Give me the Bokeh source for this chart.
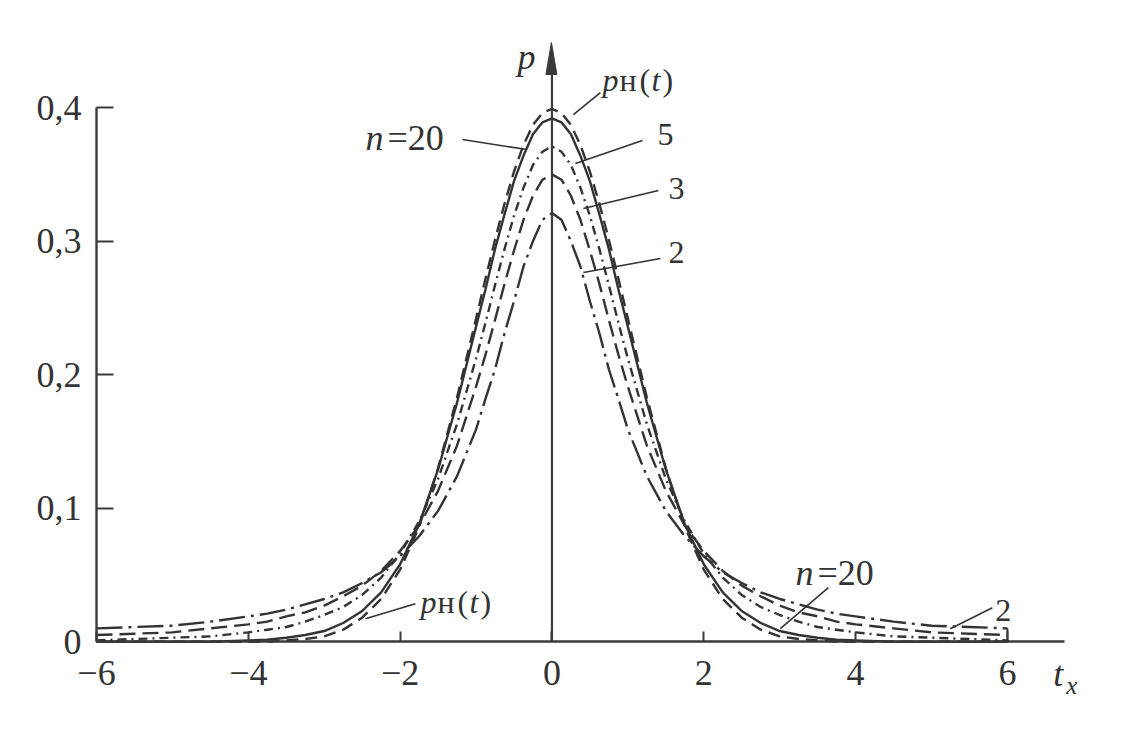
from bokeh.plotting import figure
from bokeh.models import FixedTicker, Label, Range1d
from bokeh.core.properties import value
from bokeh.embed import file_html
from bokeh.resources import INLINE

# ---------------- data ----------------
t = [-6, -5.5, -5, -4.5, -4, -3.75, -3.5, -3.25, -3, -2.75, -2.5, -2.25, -2,
     -1.75, -1.5, -1.25, -1, -0.875, -0.75, -0.625, -0.5, -0.375, -0.25, -0.125,
     0,
     0.125, 0.25, 0.375, 0.5, 0.625, 0.75, 0.875, 1, 1.25, 1.5, 1.75, 2, 2.25,
     2.5, 2.75, 3, 3.25, 3.5, 3.75, 4, 4.5, 5, 5.5, 6]

p_normal = [0.000, 0.000, 0.000, 0.000, 0.000, 0.000, 0.001, 0.002, 0.004, 0.009,
            0.018, 0.032, 0.054, 0.086, 0.130, 0.183, 0.242, 0.272, 0.301, 0.328,
            0.352, 0.372, 0.387, 0.396,
            0.399,
            0.396, 0.387, 0.372, 0.352, 0.328, 0.301, 0.272, 0.242, 0.183, 0.130,
            0.086, 0.054, 0.032, 0.018, 0.009, 0.004, 0.002, 0.001, 0.000, 0.000,
            0.000, 0.000, 0.000, 0.000]

p_n20 = [0.000, 0.000, 0.000, 0.000, 0.001, 0.0015, 0.003, 0.005, 0.008, 0.014,
         0.023, 0.037, 0.058, 0.088, 0.129, 0.179, 0.236, 0.264, 0.294, 0.320,
         0.345, 0.364, 0.380, 0.389,
         0.392,
         0.389, 0.380, 0.364, 0.345, 0.320, 0.294, 0.264, 0.236, 0.179, 0.129,
         0.088, 0.058, 0.037, 0.023, 0.014, 0.008, 0.005, 0.003, 0.0015, 0.001,
         0.000, 0.000, 0.000, 0.000]

p_n5 = [0.001, 0.002, 0.003, 0.004, 0.007, 0.009, 0.011, 0.015, 0.020, 0.026,
        0.035, 0.048, 0.066, 0.090, 0.122, 0.163, 0.212, 0.239, 0.267, 0.294,
        0.319, 0.340, 0.357, 0.367,
        0.371,
        0.367, 0.357, 0.340, 0.319, 0.294, 0.267, 0.239, 0.212, 0.163, 0.122,
        0.090, 0.066, 0.048, 0.035, 0.026, 0.020, 0.015, 0.011, 0.009, 0.007,
        0.004, 0.003, 0.002, 0.001]

p_n3 = [0.005, 0.006, 0.007, 0.010, 0.013, 0.015, 0.019, 0.022, 0.027, 0.034,
        0.042, 0.053, 0.068, 0.087, 0.113, 0.147, 0.191, 0.215, 0.241, 0.268,
        0.293, 0.316, 0.334, 0.346,
        0.350,
        0.346, 0.334, 0.316, 0.293, 0.268, 0.241, 0.215, 0.191, 0.147, 0.113,
        0.087, 0.068, 0.053, 0.042, 0.034, 0.027, 0.022, 0.019, 0.015, 0.013,
        0.010, 0.007, 0.006, 0.005]

p_n2 = [0.010, 0.011, 0.012, 0.015, 0.019, 0.021, 0.024, 0.028, 0.032, 0.037,
        0.044, 0.052, 0.064, 0.079, 0.098, 0.124, 0.159, 0.182, 0.204, 0.231,
        0.255, 0.281, 0.300, 0.316,
        0.321,
        0.316, 0.300, 0.281, 0.255, 0.231, 0.204, 0.182, 0.159, 0.124, 0.098,
        0.079, 0.064, 0.052, 0.044, 0.037, 0.032, 0.028, 0.024, 0.021, 0.019,
        0.015, 0.012, 0.011, 0.010]

x_ticks = [-6, -4, -2, 0, 2, 4, 6]
x_tick_labels = ["\u22126", "\u22124", "\u22122", "0", "2", "4", "6"]
y_ticks = [0, 0.1, 0.2, 0.3, 0.4]
y_tick_labels = ["0", "0,1", "0,2", "0,3", "0,4"]

# ---------------- layout ----------------
FONT = "Liberation Serif"
INK = "#333333"
AXIS_INK = "#3a3a3a"

PX_T = 968 / 12.75                 # pixels per unit of t
PX_P = 614 / 0.46                  # pixels per unit of p
T_AXIS = -6                        # where the p axis stands (left)
T_BOUND_END = 6.75                 # right end of the t axis line
X0_PIX, YZ_PIX = 96, 641           # page pixel of t=-6 / of p=0
FRAME_LEFT_PIX = 24
X_START = T_AXIS - (X0_PIX - FRAME_LEFT_PIX) / PX_T
X_END = 7.2
Y_START, Y_END = -0.065, 0.46
FRAME_W = round((X_END - X_START) * PX_T)
FRAME_H = round((Y_END - Y_START) * PX_P)


def at(xpix, ypix):
    """page pixel -> data coordinates (used only for annotation placement)"""
    return (xpix - X0_PIX) / PX_T + T_AXIS, (YZ_PIX - ypix) / PX_P


p = figure(frame_width=FRAME_W, frame_height=FRAME_H,
           x_range=Range1d(X_START, X_END), y_range=Range1d(Y_START, Y_END),
           output_backend="svg", toolbar_location=None,
           min_border_left=FRAME_LEFT_PIX, min_border_right=10,
           min_border_top=round(YZ_PIX - Y_END * PX_P), min_border_bottom=0,
           background_fill_color="white", border_fill_color="white",
           outline_line_color=None)
p.grid.visible = False

# curves
LW = 2.4
p.line(t, p_n2, line_color=INK, line_width=LW, line_dash="26 6 3 6")
p.line(t, p_n3, line_color=INK, line_width=LW, line_dash="16 7")
p.line(t, p_n5, line_color=INK, line_width=LW, line_dash="9 5 2 5")
p.line(t, p_n20, line_color=INK, line_width=LW)
p.line(t, p_normal, line_color=INK, line_width=LW, line_dash="12 7")
# closing bar at the right end of the tails
p.segment(x0=[t[-1]], y0=[0], x1=[t[-1]], y1=[p_n2[-1]], line_color=INK, line_width=2)

# central p axis with arrow
tip_t, tip_p = at(551, 42)
base_t, base_p = at(551, 74)
half_w = 5.5 / PX_T
p.segment(x0=[0], y0=[0], x1=[0], y1=[base_p], line_color=AXIS_INK, line_width=2.2)
p.patch([tip_t, tip_t - half_w, tip_t + half_w], [tip_p, base_p, base_p],
        fill_color=AXIS_INK, line_color=AXIS_INK, line_width=1)

# t axis (drawn at p = 0); its labels are written as text below
xa = p.xaxis[0]
xa.fixed_location = 0
xa.bounds = (T_AXIS, T_BOUND_END)
xa.ticker = FixedTicker(ticks=x_ticks)
xa.major_label_overrides = {k: "" for k in x_ticks}
xa.major_label_text_font_size = "1px"
xa.major_label_standoff = 0
xa.major_tick_in = 10
xa.major_tick_out = 0
xa.minor_tick_line_color = None
xa.axis_line_width = 2.4
xa.axis_line_color = AXIS_INK
xa.major_tick_line_color = AXIS_INK
xa.major_tick_line_width = 2

# p axis on the left (drawn at t = -6); its labels are written as text below
ya = p.yaxis[0]
ya.fixed_location = T_AXIS
ya.bounds = (0, 0.4)
ya.ticker = FixedTicker(ticks=y_ticks)
ya.major_label_overrides = {k: "" for k in y_ticks}
ya.major_label_text_font_size = "1px"
ya.major_label_standoff = 0
ya.major_tick_in = 17
ya.major_tick_out = 0
ya.minor_tick_line_color = None
ya.axis_line_width = 2.4
ya.axis_line_color = AXIS_INK
ya.major_tick_line_color = AXIS_INK
ya.major_tick_line_width = 2

# tick labels
p.text(x=[T_AXIS] * len(y_ticks), y=y_ticks, text=y_tick_labels,
       x_offset=-15, text_align="right", text_baseline="middle",
       text_font=value(FONT), text_font_size="36px", text_color=INK)
p.text(x=x_ticks, y=[0] * len(x_ticks), text=x_tick_labels,
       y_offset=31, text_align="center", text_baseline="middle",
       text_font=value(FONT), text_font_size="36px", text_color=INK)

# ---------------- annotations ----------------
# (text, left x px, baseline y px, italic, font px)
texts = [
    ("p", 517, 67, True, 36),
    # top p_н(t)
    ("p", 602, 89, True, 32), ("н", 619, 89, False, 32), ("(", 639, 89, False, 32),
    ("t", 651, 89, True, 32), (")", 662, 89, False, 32),
    # n = 20 (top)
    ("n", 365, 148, True, 36), ("=20", 387, 148, False, 36),
    ("5", 657, 143, False, 32),
    ("3", 668, 197, False, 32),
    ("2", 668, 261, False, 32),
    # bottom p_н(t)
    ("p", 420, 611, True, 32), ("н", 437, 611, False, 32), ("(", 457, 611, False, 32),
    ("t", 469, 611, True, 32), (")", 480, 611, False, 32),
    # n = 20 (bottom)
    ("n", 795, 583, True, 36), ("=20", 817, 583, False, 36),
    ("2", 995, 619, False, 32),
    # t_x
    ("t", 1053, 684, True, 36), ("x", 1066, 692, True, 25),
]
for txt, xpix, ypix, ital, size in texts:
    # Bokeh places the alphabetic baseline about 0.29 em lower than asked
    lx, ly = at(xpix, ypix - 0.29 * size)
    p.add_layout(Label(x=lx, y=ly, text=txt, text_font=FONT,
                       text_font_style="italic" if ital else "normal",
                       text_font_size=f"{size}px", text_color=INK,
                       text_align="left", text_baseline="alphabetic"))

# leader lines (page pixels)
leaders = [
    ((600, 92), (573, 114)),    # p_н(t) top
    ((462, 139), (526, 149)),   # n=20 top
    ((642, 140), (575, 163)),   # 5
    ((658, 190), (583, 208)),   # 3
    ((660, 258), (583, 272)),   # 2
    ((415, 603), (365, 618)),   # p_н(t) bottom
    ((828, 587), (780, 628)),   # n=20 bottom
    ((992, 607), (950, 628)),   # 2 bottom
]
x0s, y0s, x1s, y1s = [], [], [], []
for (a, b) in leaders:
    ax_, ay_ = at(*a)
    bx_, by_ = at(*b)
    x0s.append(ax_); y0s.append(ay_); x1s.append(bx_); y1s.append(by_)
p.segment(x0=x0s, y0=y0s, x1=x1s, y1=y1s, line_color=INK, line_width=1.6)

open("out.html", "w").write(file_html(p, INLINE))
